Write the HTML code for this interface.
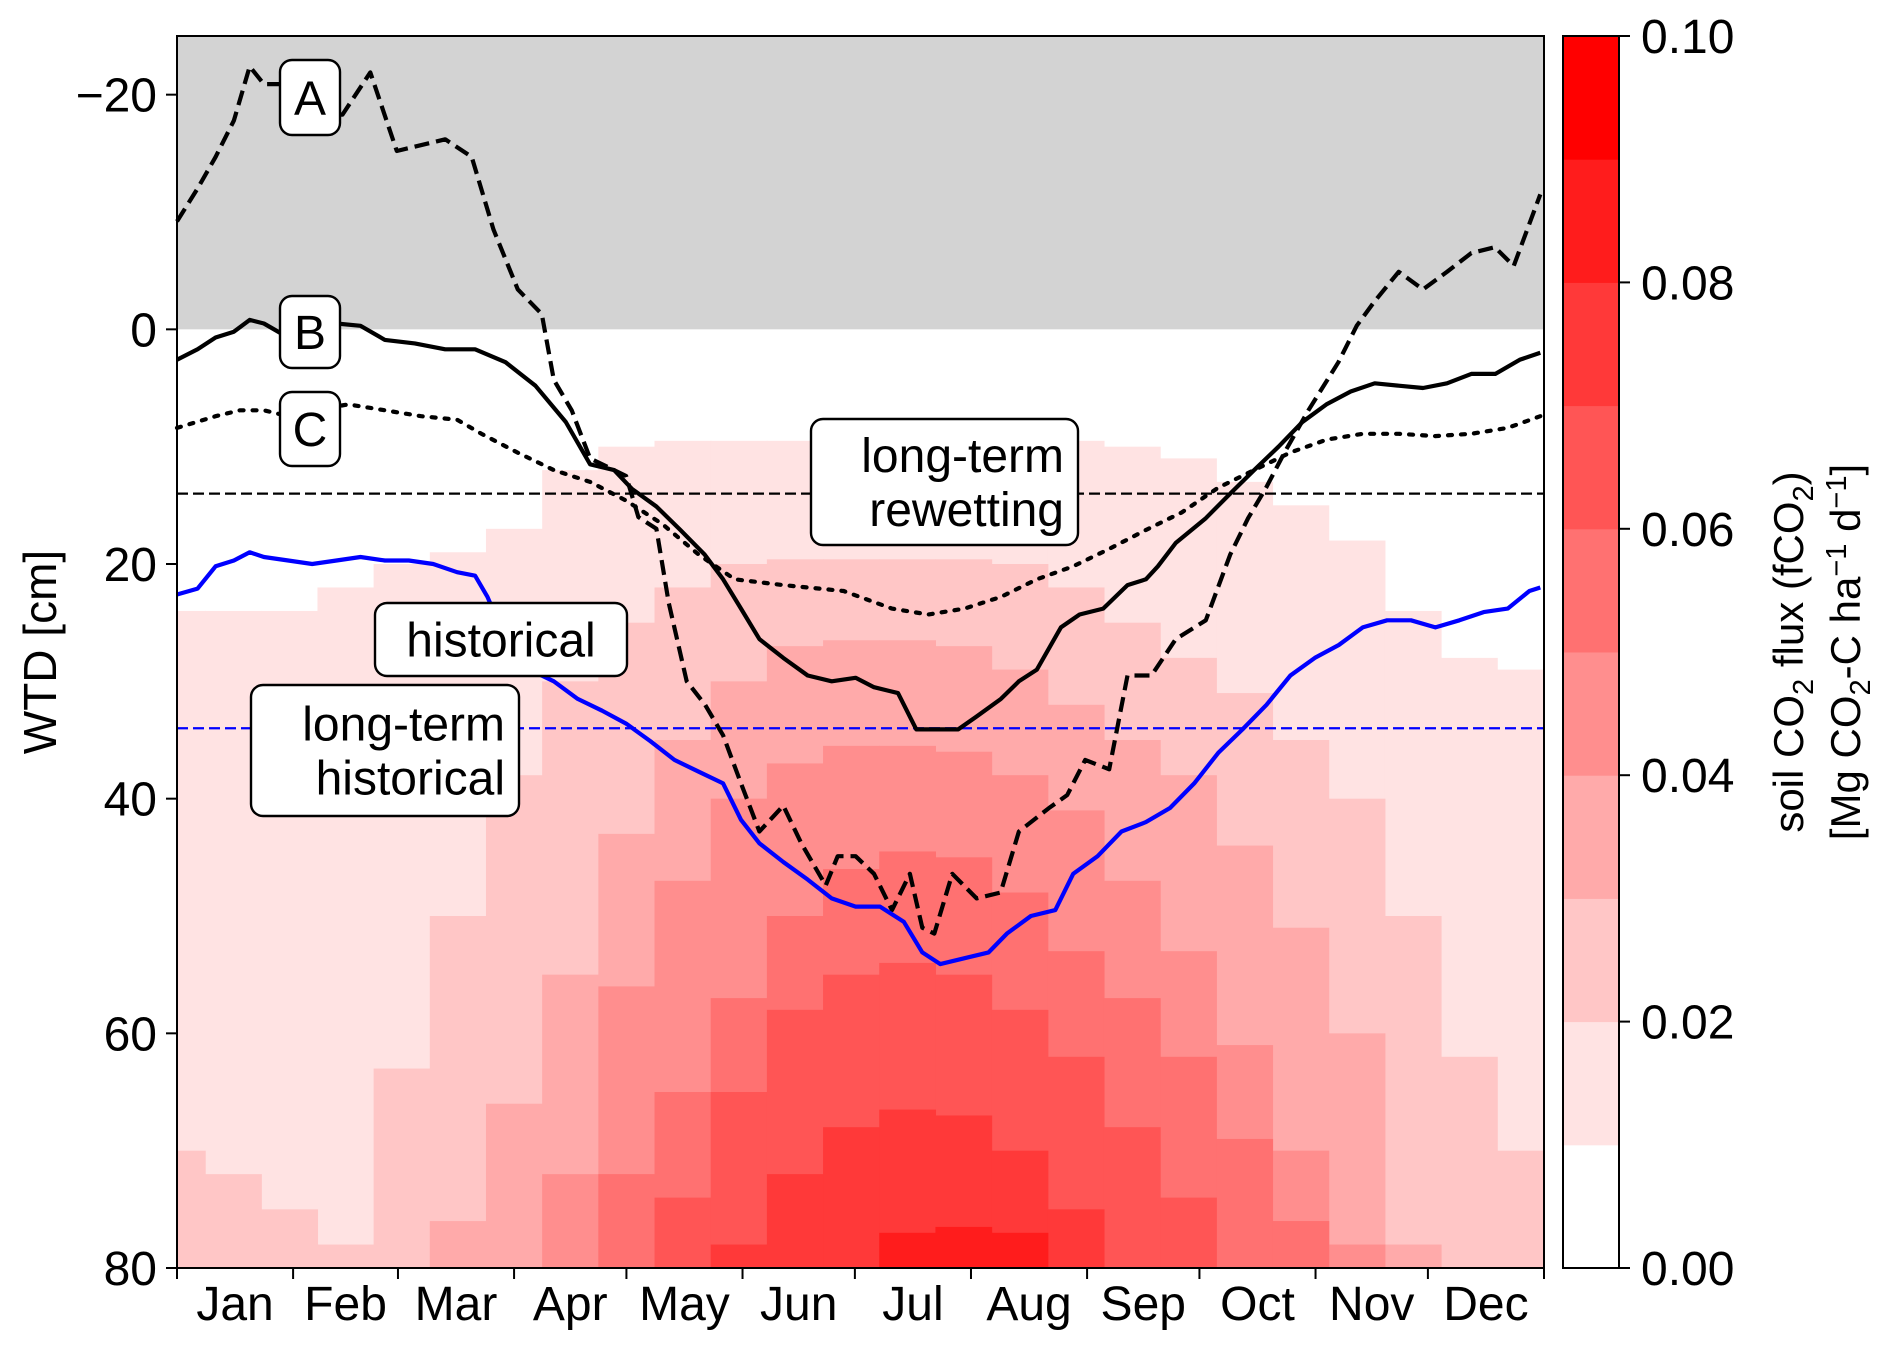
<!DOCTYPE html>
<html><head><meta charset="utf-8">
<style>
html,body{margin:0;padding:0;background:#fff;}
svg{display:block;font-family:"Liberation Sans","DejaVu Sans",sans-serif;}
</style></head>
<body>
<svg id="chart" width="1892" height="1349" viewBox="0 0 1892 1349" xmlns="http://www.w3.org/2000/svg">
<g id="heat"></g>
<g id="lines"></g>
<g id="labels"></g>
<g id="axes"></g>
<g id="cbar"></g>
</svg>
<script>
// ---- data ----
const months = ["Jan","Feb","Mar","Apr","May","Jun","Jul","Aug","Sep","Oct","Nov","Dec"];
const monthStarts = [0,31,59,90,120,151,181,212,243,273,304,334,365];
const yTicks = [-20,0,20,40,60,80];
const cbarTicks = [0.00,0.02,0.04,0.06,0.08,0.10];
const heatDays = [0,15,30,45,60,75,90,105,120,135,150,165,180,195,210,225,240,255,270,285,300,315,330,345,360];
const lvl1 = [24,24,24,22,20,19,17,12,10,9.5,9.5,9.5,9.5,9.5,9.5,9.5,9.5,10,11,13,15,18,24,28,29];
const lvl2 = [70,72,75,78,63,50,38,30,25,22,20,19.6,19.6,19.6,19.6,20,22,25,28,31,35,40,50,62,70];
const lvl3 = [90,90,90,90,90,76,66,55,43,35,30,27,26.5,26.5,27,29,32,35,38,44,51,60,78,90,90];
const lvl4 = [90,90,90,90,90,90,90,72,56,47,40,37,35.5,35.5,36,38,41,47,53,61,70,78,90,90,90];
const lvl5 = [90,90,90,90,90,90,90,90,72,65,57,50,46,44.5,45,48,53,57,62,69,76,90,90,90,90];
const lvl6 = [90,90,90,90,90,90,90,90,90,74,65,58,55,54,55,58,62,68,74,80,90,90,90,90,90];
const lvl7 = [90,90,90,90,90,90,90,90,90,90,78,72,68,66.5,67,70,75,90,90,90,90,90,90,90,90];
const lvl8 = [90,90,90,90,90,90,90,90,90,90,90,90,90,77,76.5,77,90,90,90,90,90,90,90,90,90];
const levels = [lvl1,lvl2,lvl3,lvl4,lvl5,lvl6,lvl7,lvl8];

const aDays = [0,5.5,10.3,15.2,19.4,23.2,29.7,36.1,44.2,51.6,58.7,71.6,78.7,84.5,91,97.4,100.6,105.4,110.3,119.9,123.2,128,131.3,136.1,141,145.8,150.6,155.5,161.9,166.7,173.2,176.4,181.2,186.1,190.9,195.7,199,202.2,207,213.5,219.9,224.8,232.8,237.7,242.5,248.9,253.8,260.2,266.7,274.7,281.2,286,290.8,295.7,302.1,310.1,315,319.8,326.2,332.7,339.1,345.6,351.9,356.9,364];
const aWTD = [-9.2,-12,-14.7,-17.8,-22.4,-20.9,-20.9,-18.3,-18.3,-21.9,-15.2,-16.2,-14.7,-8.5,-3.4,-1.3,4.3,6.9,11,12.5,16,17,23.3,30,32,34.6,38.7,42.8,40.6,43.8,47.4,44.9,44.9,46.4,49.5,46.4,51,51.5,46.4,48.5,48,42.8,40.8,39.7,36.7,37.5,29.5,29.5,26.4,24.8,19.2,16.1,13.5,10.5,6.9,2.8,-0.3,-2.4,-4.9,-3.4,-4.9,-6.5,-7,-5.4,-11.5];
const bDays = [0,5.5,10.3,15.2,19.4,23.2,29.7,36.1,42.6,49,55.5,63.5,71.6,79.6,87.7,95.7,103.8,110.3,116.7,121.5,128,134.4,140.9,145.8,150.6,155.5,161.9,168.4,174.8,181.2,186.1,192.5,197.4,202.2,208.6,213.5,220,224.8,229.6,236,241,247.3,253.8,258.7,261.9,266.7,274.7,281.2,287.6,294.1,300.5,306.9,313.4,319.8,326.2,332.7,339.1,345.6,352,358.5,364];
const bWTD = [2.6,1.7,0.7,0.2,-0.8,-0.5,0.7,0.2,-0.5,-0.3,0.9,1.2,1.7,1.7,2.8,4.8,7.9,11.5,12,13.6,15.1,17.1,19.2,21.3,23.8,26.4,28,29.5,30,29.7,30.5,31,34.1,34.1,34.1,33,31.5,30,29,25.4,24.3,23.8,21.8,21.3,20.2,18.2,16.1,14,12,10,7.9,6.4,5.3,4.6,4.8,5,4.6,3.8,3.8,2.6,2];
const cDays = [0,10.3,16.8,23.2,29.7,36.1,45.8,55.5,65.2,74.8,81.3,90.9,100.6,110.3,119.9,129.6,139.3,148.9,161.9,178,190.9,200.6,210.3,220,229.6,239.3,249,258.7,268.3,278,287.6,297.3,307,316.6,326.2,335.9,345.6,355.3,364];
const cWTD = [8.4,7.4,6.9,6.9,7.4,6.9,6.4,6.9,7.4,7.7,8.9,10.5,12,13,14.6,16.6,19.2,21.3,21.8,22.3,23.8,24.3,23.8,22.8,21.3,20.2,18.7,17.1,15.6,13.5,12,10.5,9.4,8.9,8.9,9.1,8.9,8.4,7.4];
const hDays = [0,5.5,10.3,15.2,19.4,23.2,29.7,36.1,42.6,49,55.5,61.9,68.4,74.8,79.6,82.9,87.7,94.1,100.6,107,113.5,119.9,126.4,132.8,139.3,145.8,150.6,155.5,161.9,168.4,174.8,181.2,187.7,194.1,199,203.8,210.3,216.7,221.6,228,234.5,239.3,245.8,252.2,258.7,265.1,271.6,278,284.5,290.9,297.3,303.8,310.2,316.6,323.1,329.5,336,342.4,348.9,355.3,361.1,364];
const hWTD = [22.6,22.1,20.2,19.7,19,19.4,19.7,20,19.7,19.4,19.7,19.7,20,20.7,21,22.8,26.4,29,30,31.5,32.5,33.6,35.1,36.7,37.7,38.7,41.8,43.8,45.4,46.9,48.5,49.2,49.2,50.5,53.1,54.1,53.6,53.1,51.5,50,49.5,46.4,44.9,42.8,42,40.8,38.7,36.1,34.1,32,29.5,28,26.9,25.4,24.8,24.8,25.4,24.8,24.1,23.8,22.3,22];
const rewetLevel = 14;
const histLevel = 34;

// ---- scales ----
const X0=177, X1=1544, Y0=36, Y1=1268;
const yMin=-25, yMax=80;
const xs = d => X0 + d/365*(X1-X0);
const ys = v => Y0 + (v-yMin)/(yMax-yMin)*(Y1-Y0);
const CB0=1563, CB1=1619;
const cs = v => Y1 - v/0.10*(Y1-Y0);
const NS="http://www.w3.org/2000/svg";
function mk(tag, attrs, parent){const e=document.createElementNS(NS,tag);for(const k in attrs)e.setAttribute(k,attrs[k]);parent.appendChild(e);return e;}
function lvlColor(k){const g=Math.round(255*(1-k/9));return `rgb(255,${g},${g})`;}

const heat=document.getElementById('heat');
let gr=mk('rect',{x:X0,y:ys(yMin),width:X1-X0,height:ys(0)-ys(yMin),fill:'#d3d3d3'},heat);


levels.forEach((arr,li)=>{
  arr.forEach((top,i)=>{
    if(top>=80) return;
    const d0=Math.max(0,heatDays[i]-7.5), d1=Math.min(365,heatDays[i]+7.5);
    const r=mk('rect',{x:xs(d0),y:ys(Math.max(0,top)),width:xs(d1)-xs(d0)+0.6,height:ys(80)-ys(Math.max(0,top)),fill:lvlColor(li+1)},heat);
    
    
  });
});

// ---- lines ----
const lines=document.getElementById('lines');
function pathFrom(days,vals){return days.map((d,i)=>(i?'L':'M')+xs(d).toFixed(1)+','+ys(vals[i]).toFixed(1)).join('');}
let hl=mk('line',{x1:X0,x2:X1,y1:ys(rewetLevel),y2:ys(rewetLevel),stroke:'#000','stroke-width':2.2,'stroke-dasharray':'11,5'},lines);


let hb=mk('line',{x1:X0,x2:X1,y1:ys(histLevel),y2:ys(histLevel),stroke:'#0000ff','stroke-width':2.2,'stroke-dasharray':'11,5'},lines);


let la=mk('path',{d:pathFrom(aDays,aWTD),fill:'none',stroke:'#000','stroke-width':4.2,'stroke-dasharray':'15,7','stroke-linejoin':'round'},lines);


let lb=mk('path',{d:pathFrom(bDays,bWTD),fill:'none',stroke:'#000','stroke-width':4.2,'stroke-linejoin':'round'},lines);


let lc=mk('path',{d:pathFrom(cDays,cWTD),fill:'none',stroke:'#000','stroke-width':4.2,'stroke-dasharray':'4,9','stroke-linecap':'round'},lines);


let lh=mk('path',{d:pathFrom(hDays,hWTD),fill:'none',stroke:'#0000ff','stroke-width':4.2,'stroke-linejoin':'round'},lines);



// ---- annotation boxes ----
const labels=document.getElementById('labels');
function box(x,y,w,h,textLines,anchor,name){
  const g=mk('g',{},labels);
  
  
  mk('rect',{x:x,y:y,width:w,height:h,rx:12,ry:12,fill:'#fff',stroke:'#000','stroke-width':2.4},g);
  const n=textLines.length, lh=54;
  textLines.forEach((t,i)=>{
    const tx = anchor==='end'? x+w-14 : x+w/2;
    const ty = y+h/2 + (i-(n-1)/2)*lh + 17;
    const te=mk('text',{x:tx,y:ty,'font-size':48,'text-anchor':anchor,fill:'#000'},g);
    te.textContent=t;
  });
}
box(280,60,60,75,['A'],'middle','label-a');
box(280,296,60,72,['B'],'middle','label-b');
box(280,392,60,74,['C'],'middle','label-c');
box(375,603,252,73,['historical'],'middle','label-historical');
box(251,685,268,131,['long-term','historical'],'end','label-long-term-historical');
box(811,419,267,126,['long-term','rewetting'],'end','label-long-term-rewetting');

// ---- axes ----
const axes=document.getElementById('axes');
mk('rect',{x:X0,y:Y0,width:X1-X0,height:Y1-Y0,fill:'none',stroke:'#000','stroke-width':2},axes);
yTicks.forEach(v=>{
  const y=ys(v);
  mk('line',{x1:X0-11,x2:X0,y1:y,y2:y,stroke:'#000','stroke-width':2},axes);
  const t=mk('text',{x:X0-20,y:y+17,'font-size':48,'text-anchor':'end'},axes);
  t.textContent = v<0 ? '\u2212'+Math.abs(v) : String(v);
  
  
});
monthStarts.forEach(d=>{
  mk('line',{x1:xs(d),x2:xs(d),y1:Y1,y2:Y1+11,stroke:'#000','stroke-width':2},axes);
});
months.forEach((m,i)=>{
  const mid=(monthStarts[i]+monthStarts[i+1])/2;
  const t=mk('text',{x:xs(mid),y:Y1+52,'font-size':48,'text-anchor':'middle'},axes);
  t.textContent=m;
  
  
});
const yt=mk('text',{x:0,y:0,'font-size':46,'text-anchor':'middle',transform:`translate(56,${(Y0+Y1)/2}) rotate(-90)`},axes);
yt.textContent='WTD [cm]';



// ---- colorbar ----
const cb=document.getElementById('cbar');
for(let k=0;k<10;k++){
  const r=mk('rect',{x:CB0,y:cs((k+1)*0.01),width:CB1-CB0,height:cs(k*0.01)-cs((k+1)*0.01)+0.5,fill:k===0?'#fff':lvlColor(k)},cb);
  
  
}
mk('rect',{x:CB0,y:Y0,width:CB1-CB0,height:Y1-Y0,fill:'none',stroke:'#000','stroke-width':2},cb);
cbarTicks.forEach(v=>{
  const y=cs(v);
  mk('line',{x1:CB1,x2:CB1+11,y1:y,y2:y,stroke:'#000','stroke-width':2},cb);
  const t=mk('text',{x:CB1+22,y:y+17,'font-size':48},cb);
  t.textContent=v.toFixed(2);
  
  
});
const cl=mk('text',{x:0,y:0,'font-size':42,'text-anchor':'middle',transform:`translate(1803,${(Y0+Y1)/2}) rotate(-90)`},cb);
cl.innerHTML='soil CO<tspan font-size="29" dy="10">2</tspan><tspan dy="-10"> flux (fCO</tspan><tspan font-size="29" dy="10">2</tspan><tspan dy="-10">)</tspan>';


const cl2=mk('text',{x:0,y:0,'font-size':42,'text-anchor':'middle',transform:`translate(1860,${(Y0+Y1)/2}) rotate(-90)`},cb);
cl2.innerHTML='[Mg CO<tspan font-size="29" dy="10">2</tspan><tspan dy="-10">-C ha</tspan><tspan font-size="29" dy="-14">\u22121</tspan><tspan dy="14"> d</tspan><tspan font-size="29" dy="-14">\u22121</tspan><tspan dy="14">]</tspan>';


</script>
</body></html>
